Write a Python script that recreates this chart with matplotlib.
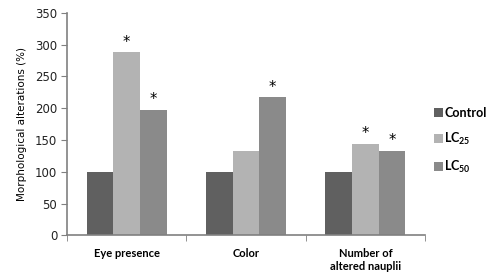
import matplotlib
matplotlib.use("Agg")
import matplotlib.pyplot as plt
import numpy as np

categories = ["Eye presence", "Color", "Number of\naltered nauplii"]
series_names = ["Control", r"LC$_{\mathbf{25}}$", r"LC$_{\mathbf{50}}$"]
control = [100, 100, 100]
lc25 = [288, 133, 144]
lc50 = [197, 217, 133]
significant = [[False, False, False], [True, False, True], [True, True, True]]
colors = ["#606060", "#b3b3b3", "#8a8a8a"]
yticks = [0, 50, 100, 150, 200, 250, 300, 350]

plt.rcParams['mathtext.fontset'] = 'custom'
plt.rcParams['mathtext.rm'] = 'Lato'
plt.rcParams['mathtext.bf'] = 'Lato:bold'

fig = plt.figure(figsize=(4.92, 2.78), dpi=100)
ax = fig.add_axes([0.136, 0.1536, 0.728, 0.8005])

x = np.arange(len(categories))
w = 0.223
values = [control, lc25, lc50]
for i, (vals, c, name) in enumerate(zip(values, colors, series_names)):
    pos = x + (i - 1) * w
    ax.bar(pos, vals, width=w, color=c, label=name, edgecolor='none')
    for p, v, s in zip(pos, vals, significant[i]):
        if s:
            ax.text(p, v + 4, "*", ha='center', va='bottom', fontsize=10.5, family='DejaVu Sans')

ax.set_xlim(-0.5, 2.5)
ax.set_ylim(0, 350)
ax.set_yticks(yticks)
ax.set_yticklabels([str(t) for t in yticks], fontsize=8.5, family='DejaVu Sans', color='#222222')
ax.set_xticks(x)
ax.set_xticklabels(categories, fontsize=8, family='Lato', fontweight='bold')
ax.tick_params(axis='x', length=0, pad=9)
ax.set_xticks([-0.5, 0.5, 1.5, 2.5], minor=True)
ax.tick_params(axis='x', which='minor', length=4, color='#808080')
ax.tick_params(axis='y', length=4, color='#808080', pad=3)
for s in ['top', 'right']:
    ax.spines[s].set_visible(False)
for s in ['left', 'bottom']:
    ax.spines[s].set_color('#808080')
    ax.spines[s].set_linewidth(1.2)
ax.set_ylabel("Morphological alterations (%)", fontsize=7.5, family='DejaVu Sans', labelpad=6)

leg = fig.legend(loc='upper left', bbox_to_anchor=(0.86, 0.655), frameon=False,
                 handlelength=0.7, handleheight=0.7, handletextpad=0.1, labelspacing=0.95,
                 prop={'family': 'Lato', 'weight': 'bold', 'size': 9})

fig.savefig("out.png", dpi=100)
